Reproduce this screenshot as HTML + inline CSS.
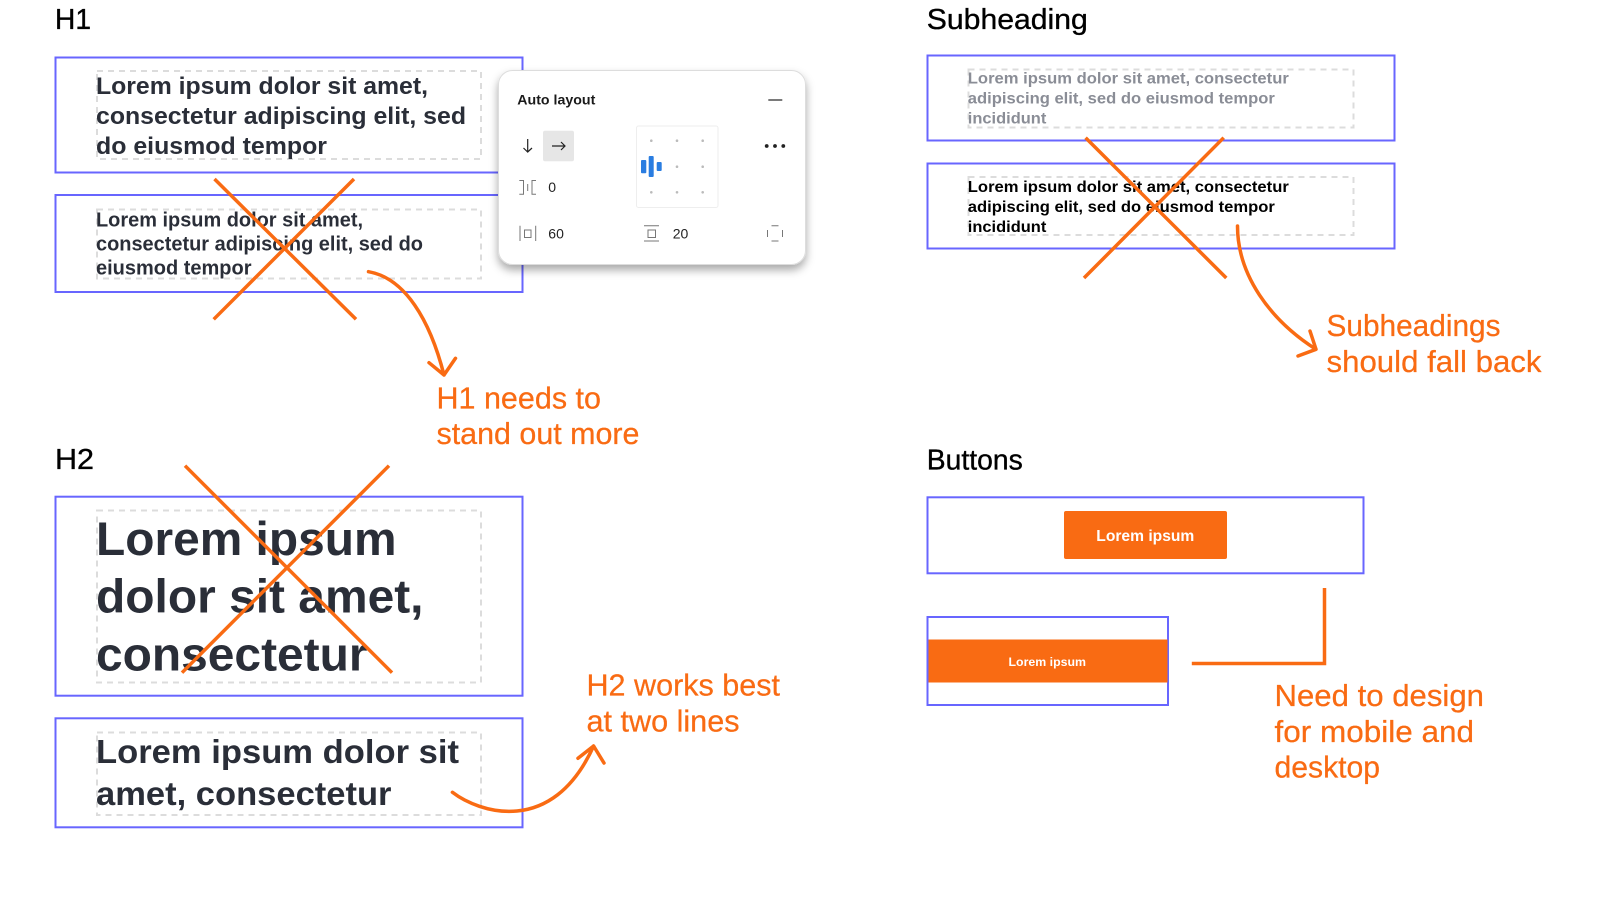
<!DOCTYPE html>
<html><head><meta charset="utf-8"><style>
html,body{margin:0;padding:0;background:#fff;width:1600px;height:900px;overflow:hidden}
svg{display:block}
text{font-family:"Liberation Sans",sans-serif}
.b{font-weight:bold}
.h{font-size:29px;fill:#000;stroke:#000;stroke-width:.35px}
.l{font-size:31px;fill:#f96b13;stroke:#f96b13;stroke-width:.25px}
.box{fill:none;stroke:#6866ff;stroke-width:2}
.dash{fill:none;stroke:#dcdcdc;stroke-width:2;stroke-dasharray:6 5}
.o{fill:none;stroke:#f96b13;stroke-width:3.5}
.ar{fill:none;stroke:#f96b13;stroke-width:3.5;stroke-linecap:round;stroke-linejoin:round}
.ic{fill:none;stroke:#777;stroke-width:1}
</style></head><body>
<svg width="1600" height="900" viewBox="0 0 1600 900" xmlns="http://www.w3.org/2000/svg">
<defs><filter id="sh" x="-20%" y="-20%" width="140%" height="140%"><feDropShadow dx="0" dy="5" stdDeviation="4.5" flood-color="#000" flood-opacity=".34"/></filter></defs>
<rect width="1600" height="900" fill="#fff"/>

<text class="h" x="55" y="29" textLength="36" lengthAdjust="spacingAndGlyphs">H1</text>
<rect class="box" x="55.5" y="57.5" width="467" height="115"/>
<rect class="dash" x="97" y="71" width="384" height="88"/>
<g class="b" font-size="24.5" fill="#2a2e38">
<text x="96" y="93.8" textLength="332" lengthAdjust="spacingAndGlyphs">Lorem ipsum dolor sit amet,</text>
<text x="96" y="123.8" textLength="370" lengthAdjust="spacingAndGlyphs">consectetur adipiscing elit, sed</text>
<text x="96" y="153.8" textLength="231" lengthAdjust="spacingAndGlyphs">do eiusmod tempor</text>
</g>
<rect class="box" x="55.5" y="195" width="467" height="97"/>
<rect class="dash" x="97" y="209.5" width="384" height="69"/>
<g class="b" font-size="20" fill="#2a2e38">
<text x="96" y="226.3" textLength="267" lengthAdjust="spacingAndGlyphs">Lorem ipsum dolor sit amet,</text>
<text x="96" y="250.3" textLength="327" lengthAdjust="spacingAndGlyphs">consectetur adipiscing elit, sed do</text>
<text x="96" y="274.3" textLength="155.5" lengthAdjust="spacingAndGlyphs">eiusmod tempor</text>
</g>
<path class="o" d="M214.5 179L356 319.3M354 179L213.7 319.3"/>
<path class="ar" d="M368.5 271.7C405 278 430 320 444 375M429 362.7L444 375L455.5 358.3"/>
<text class="l" x="436.5" y="408.5" textLength="164.5" lengthAdjust="spacingAndGlyphs">H1 needs to</text>
<text class="l" x="436.5" y="444" textLength="203" lengthAdjust="spacingAndGlyphs">stand out more</text>

<rect x="498.5" y="70.5" width="307" height="194" rx="14" fill="#fff" stroke="#ddd" stroke-width="1" filter="url(#sh)"/>
<text class="b" x="517.3" y="104.6" font-size="13.5" fill="#1a1a1a" textLength="78" lengthAdjust="spacingAndGlyphs">Auto layout</text>
<path d="M768.3 100H782.3" stroke="#222" stroke-width="1.2" fill="none"/>
<path d="M527.7 139V152M523.5 148L527.7 152L532 148" stroke="#222" stroke-width="1.2" fill="none"/>
<rect x="543" y="130.7" width="31" height="30.6" rx="2" fill="#e6e6e6"/>
<path d="M552 146H565M561 142L565 146L561 150" stroke="#222" stroke-width="1.2" fill="none"/>
<rect x="636.5" y="126" width="81.5" height="81.5" rx="2" fill="#fff" stroke="#eee" stroke-width="1"/>
<g fill="#bbb">
<circle cx="651.3" cy="140.7" r="1.3"/><circle cx="677" cy="140.7" r="1.3"/><circle cx="702.7" cy="140.7" r="1.3"/>
<circle cx="677" cy="166.7" r="1.3"/><circle cx="702.7" cy="166.7" r="1.3"/>
<circle cx="651.3" cy="192.3" r="1.3"/><circle cx="677" cy="192.3" r="1.3"/><circle cx="702.7" cy="192.3" r="1.3"/>
</g>
<g fill="#2a7de1">
<rect x="641" y="160" width="5.3" height="13.3" rx="1"/>
<rect x="648.7" y="156" width="5" height="21" rx="1"/>
<rect x="656.7" y="162" width="5" height="9" rx="1"/>
</g>
<g fill="#222"><circle cx="766.7" cy="146" r="1.9"/><circle cx="775" cy="146" r="1.9"/><circle cx="783.3" cy="146" r="1.9"/></g>
<path class="ic" d="M519.3 180.5H523.5V194.3H519.3M527.7 184V191M536 180.5H532V194.3H536"/>
<path class="ic" d="M520 225.7V241M535.7 225.7V241"/><rect class="ic" x="524.5" y="230" width="6.5" height="7.5"/>
<path class="ic" d="M644 225.7H659M644 241H659"/><rect class="ic" x="648" y="230" width="7.5" height="7.5"/>
<path class="ic" d="M771.5 225.7H778.5M771.5 241H778.5M767.5 230V237M782.5 230V237" stroke="#555"/>
<g font-size="14" fill="#222">
<text x="548.3" y="192">0</text>
<text x="548.3" y="238.7">60</text>
<text x="672.7" y="238.7">20</text>
</g>

<text class="h" x="926.8" y="29" textLength="161" lengthAdjust="spacingAndGlyphs">Subheading</text>
<rect class="box" x="927.5" y="55.5" width="467" height="85"/>
<rect class="dash" x="968.5" y="69.5" width="385" height="58"/>
<g class="b" font-size="16" fill="#8a8d96">
<text x="967.8" y="83.7" textLength="321" lengthAdjust="spacingAndGlyphs">Lorem ipsum dolor sit amet, consectetur</text>
<text x="967.8" y="103.7" textLength="307" lengthAdjust="spacingAndGlyphs">adipiscing elit, sed do eiusmod tempor</text>
<text x="967.8" y="123.7" textLength="78.5" lengthAdjust="spacingAndGlyphs">incididunt</text>
</g>
<rect class="box" x="927.5" y="163.5" width="467" height="85"/>
<rect class="dash" x="968.5" y="177" width="385" height="58"/>
<g class="b" font-size="16" fill="#000">
<text x="967.8" y="191.8" textLength="321" lengthAdjust="spacingAndGlyphs">Lorem ipsum dolor sit amet, consectetur</text>
<text x="967.8" y="211.8" textLength="307" lengthAdjust="spacingAndGlyphs">adipiscing elit, sed do eiusmod tempor</text>
<text x="967.8" y="231.8" textLength="78.5" lengthAdjust="spacingAndGlyphs">incididunt</text>
</g>
<path class="o" d="M1085.6 137.7L1226.3 278M1223.7 137.7L1084 278"/>
<path class="ar" d="M1237.5 226C1237.5 275 1270 320 1316 349.3M1310 331L1316 349.3L1298 356"/>
<text class="l" x="1326.5" y="335.8" textLength="174" lengthAdjust="spacingAndGlyphs">Subheadings</text>
<text class="l" x="1326.5" y="371.8" textLength="215" lengthAdjust="spacingAndGlyphs">should fall back</text>

<text class="h" x="55" y="469" textLength="39" lengthAdjust="spacingAndGlyphs">H2</text>
<rect class="box" x="55.5" y="496.7" width="467" height="199"/>
<rect class="dash" x="97" y="510.5" width="384" height="172"/>
<g class="b" font-size="47" fill="#2a2e38">
<text x="96" y="555" textLength="300.5" lengthAdjust="spacingAndGlyphs">Lorem ipsum</text>
<text x="96" y="612.7" textLength="327.5" lengthAdjust="spacingAndGlyphs">dolor sit amet,</text>
<text x="96" y="670.7" textLength="271.5" lengthAdjust="spacingAndGlyphs">consectetur</text>
</g>
<path class="o" d="M185 465.7L392 672.7M389 465.7L182 672.7"/>
<rect class="box" x="55.5" y="718.3" width="467" height="109"/>
<rect class="dash" x="97" y="732.5" width="384" height="82.5"/>
<g class="b" font-size="33" fill="#2a2e38">
<text x="96" y="762.8" textLength="363" lengthAdjust="spacingAndGlyphs">Lorem ipsum dolor sit</text>
<text x="96" y="805" textLength="295.5" lengthAdjust="spacingAndGlyphs">amet, consectetur</text>
</g>
<path class="ar" d="M452.4 792.3C478 812 552 838 593.6 746M578 758.3L593.6 746L604 763"/>
<text class="l" x="586.5" y="695.3" textLength="193.5" lengthAdjust="spacingAndGlyphs">H2 works best</text>
<text class="l" x="586.5" y="731.3" textLength="153" lengthAdjust="spacingAndGlyphs">at two lines</text>

<text class="h" x="926.8" y="469.3" textLength="96" lengthAdjust="spacingAndGlyphs">Buttons</text>
<rect class="box" x="927.5" y="497.3" width="436" height="76"/>
<rect x="1064" y="511" width="163" height="48" rx="2" fill="#f96b13"/>
<text class="b" x="1096.3" y="540.8" font-size="15.5" fill="#fff" textLength="98" lengthAdjust="spacingAndGlyphs">Lorem ipsum</text>
<rect class="box" x="927.5" y="617" width="240.5" height="88"/>
<rect x="928.5" y="639.5" width="239" height="43" fill="#f96b13"/>
<text class="b" x="1008.5" y="666" font-size="12" fill="#fff" textLength="77.5" lengthAdjust="spacingAndGlyphs">Lorem ipsum</text>
<path class="o" d="M1191.8 663.5H1324.5V588"/>
<text class="l" x="1274.5" y="705.8" textLength="209.5" lengthAdjust="spacingAndGlyphs">Need to design</text>
<text class="l" x="1274.5" y="742" textLength="199.5" lengthAdjust="spacingAndGlyphs">for mobile and</text>
<text class="l" x="1274.5" y="777.5" textLength="105.5" lengthAdjust="spacingAndGlyphs">desktop</text>
</svg>
</body></html>
